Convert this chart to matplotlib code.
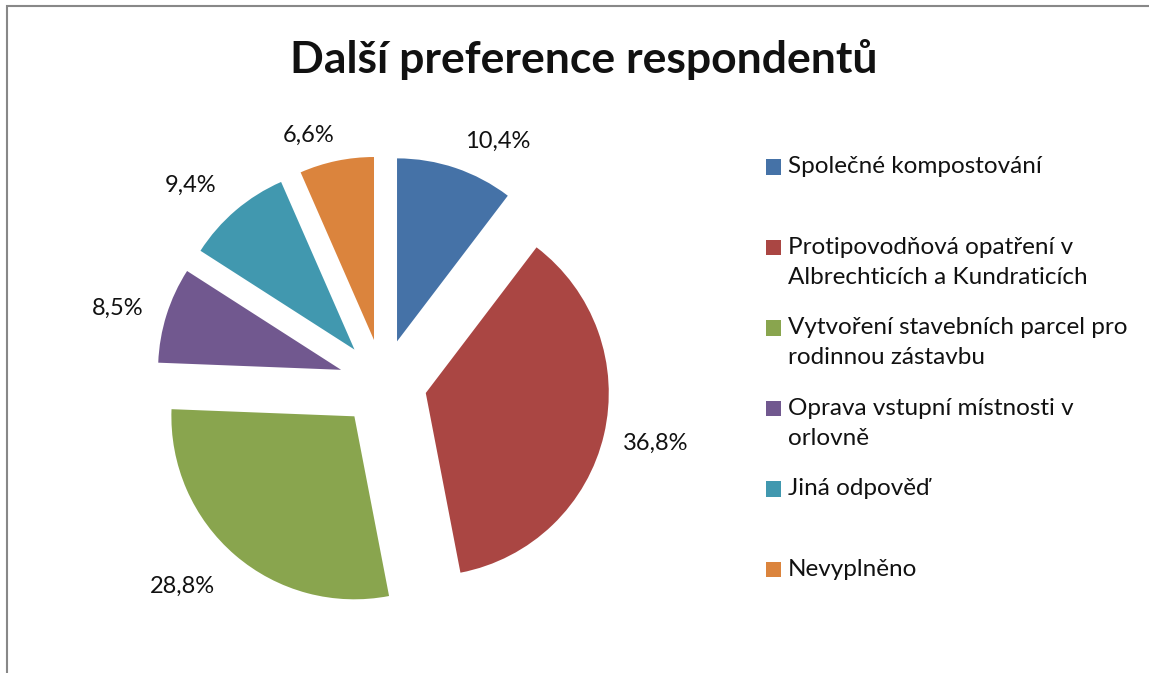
import matplotlib
matplotlib.use("Agg")
import matplotlib.pyplot as plt
from matplotlib.patches import Rectangle
from matplotlib.legend_handler import HandlerPatch

# data
categories = ["Společné kompostování",
              "Protipovodňová opatření v\nAlbrechticích a Kundraticích",
              "Vytvoření stavebních parcel pro\nrodinnou zástavbu",
              "Oprava vstupní místnosti v\norlovně",
              "Jiná odpověď",
              "Nevyplněno"]
values = [10.4, 36.8, 28.8, 8.5, 9.4, 6.6]
pct_labels = ["10,4%", "36,8%", "28,8%", "8,5%", "9,4%", "6,6%"]
colors = ["#4572A7", "#AA4643", "#89A54E", "#71588F", "#4198AF", "#DB843D"]

plt.rcParams['font.family'] = ['Lato', 'DejaVu Sans']

W, H = 1149, 673
fig = plt.figure(figsize=(W/100, H/100), dpi=100)

# pie axes, centre at (383, 383) px, radius 183 px
r = 183
L = 1.5
cx, cy = 383, 383
ax = fig.add_axes([(cx - L*r)/W, (H - cy - L*r)/H, 2*L*r/W, 2*L*r/H])

lab = iter(pct_labels)
wedges, texts, autotexts = ax.pie(values, colors=colors, startangle=90, counterclock=False,
                                  explode=[0.24]*len(values), radius=1,
                                  autopct=lambda p: next(lab), pctdistance=1.24,
                                  textprops=dict(fontsize=17, color="#111111"),
                                  normalize=True)
ax.set_xlim(-L, L)
ax.set_ylim(-L, L)
ax.axis("off")

# label placement (Excel "best fit"), in units of the radius
label_xy = [(0.628, 1.322), (1.492, -0.328), (-1.098, -1.109),
            (-1.448, 0.410), (-1.049, 1.082), (-0.404, 1.355)]
for t, xy in zip(autotexts, label_xy):
    t.set_position(xy)

fig.text(584/W, 1 - 60/H, "Další preference respondentů", ha="center", va="center",
         fontsize=32, fontweight="bold", color="#111111")


def upper_square(legend, orig_handle, xdescent, ydescent, width, height, fontsize):
    return Rectangle((-xdescent, -ydescent + 0.6*fontsize), width, height)


labels = [c if "\n" in c else c + "\n" for c in categories]
fs = 17.5
leg = fig.legend(wedges, labels, loc="upper left", bbox_to_anchor=(766/W, 1 - 156/H),
                 frameon=False, fontsize=fs, borderpad=0, borderaxespad=0,
                 handlelength=15/(fs*100/72), handleheight=15/(fs*100/72),
                 handletextpad=7/(fs*100/72), labelspacing=1.2,
                 handler_map={w: HandlerPatch(patch_func=upper_square) for w in wedges})
for t in leg.get_texts():
    t.set_linespacing(1.55)
    t.set_color("#111111")

# outer chart frame (left and top edge visible)
fig.patches.append(Rectangle((6.5/W, -0.1), 1.2, 1 - 6.5/H + 0.1, transform=fig.transFigure,
                             fill=False, edgecolor="#888888", linewidth=1.5, figure=fig))

fig.savefig("out.png", dpi=100)
